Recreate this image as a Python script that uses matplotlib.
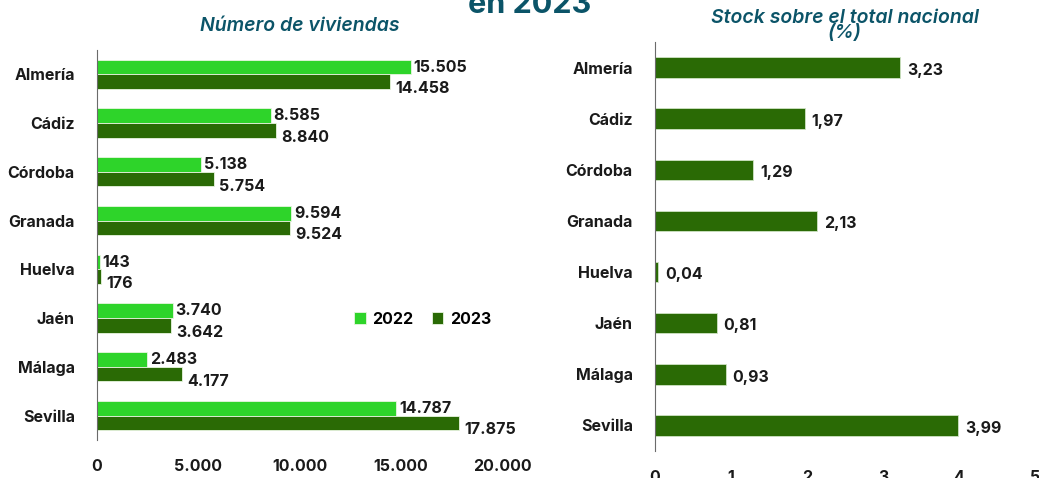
import matplotlib
matplotlib.use("Agg")
import matplotlib.pyplot as plt
import numpy as np

provincias = ["Almería", "Cádiz", "Córdoba", "Granada", "Huelva", "Jaén", "Málaga", "Sevilla"]
viv_2022 = [15505, 8585, 5138, 9594, 143, 3740, 2483, 14787]
viv_2023 = [14458, 8840, 5754, 9524, 176, 3642, 4177, 17875]
stock_pct = [3.23, 1.97, 1.29, 2.13, 0.04, 0.81, 0.93, 3.99]

C_LIGHT = "#2ed42a"
C_DARK = "#2a6a05"
C_TITLE = "#0b5468"
C_TEXT = "#1a1a1a"

plt.rcParams["font.family"] = ["Inter", "DejaVu Sans"]


def miles(v):
    return f"{v:,.0f}".replace(",", ".")


fig = plt.figure(figsize=(10.39, 4.78), dpi=100)

# left panel: number of dwellings
ax1 = fig.add_axes([0.0934, 0.0795, 0.3898, 0.816])
y = np.arange(len(provincias))
h = 0.3
ax1.barh(y - h / 2, viv_2022, height=h, color=C_LIGHT, edgecolor="#e8f5e0",
         linewidth=0.6, label="2022")
ax1.barh(y + h / 2, viv_2023, height=h, color=C_DARK, edgecolor="#e8f5e0",
         linewidth=0.6, label="2023")
for i in range(len(provincias)):
    ax1.annotate(miles(viv_2022[i]), (viv_2022[i], y[i] - h / 2), xytext=(2, 0),
                 textcoords="offset points", ha="left", va="center",
                 fontsize=11.5, fontweight="bold", color=C_TEXT)
    ax1.annotate(miles(viv_2023[i]), (viv_2023[i], y[i] + h / 2), xytext=(4, -5),
                 textcoords="offset points", ha="left", va="center",
                 fontsize=11.5, fontweight="bold", color=C_TEXT)
ax1.set_xlim(0, 20000)
ax1.set_ylim(len(provincias) - 0.5, -0.5)
ax1.set_yticks(y)
ax1.set_yticklabels(provincias)
ax1.set_xticks([0, 5000, 10000, 15000, 20000])
ax1.set_xticklabels([miles(v) for v in [0, 5000, 10000, 15000, 20000]])
ax1.legend(loc="center left", bbox_to_anchor=(0.6, 0.31), ncol=2, frameon=False,
           handlelength=0.7, handleheight=0.7, handletextpad=0.4, columnspacing=1.2,
           prop={"size": 11.5, "weight": "bold"})
ax1.set_title("Número de viviendas", fontsize=14, style="italic", color=C_TITLE,
              fontweight="semibold", pad=14)

# right panel: share of national stock
ax2 = fig.add_axes([0.6304, 0.0565, 0.3657, 0.8556])
ax2.barh(y, stock_pct, height=0.4, color=C_DARK, edgecolor="#cfe3c4", linewidth=0.6)
for i in range(len(provincias)):
    ax2.annotate(f"{stock_pct[i]:.2f}".replace(".", ","), (stock_pct[i], y[i]),
                 xytext=(5, -2), textcoords="offset points", ha="left", va="center",
                 fontsize=11.5, fontweight="bold", color=C_TEXT)
ax2.set_xlim(0, 5)
ax2.set_ylim(len(provincias) - 0.5, -0.5)
ax2.set_yticks(y)
ax2.set_yticklabels(provincias)
ax2.set_xticks(range(6))
ax2.set_title("Stock sobre el total nacional\n(%)", fontsize=14, style="italic",
              color=C_TITLE, fontweight="semibold", pad=2, linespacing=0.8)

for ax in (ax1, ax2):
    for s in ("top", "right", "bottom"):
        ax.spines[s].set_visible(False)
    ax.spines["left"].set_color("#6b6b6b")
    ax.tick_params(length=0, labelsize=11.5, colors=C_TEXT)
    ax.tick_params(axis="y", pad=16)
    ax.tick_params(axis="x", pad=14)
    for lab in ax.get_xticklabels() + ax.get_yticklabels():
        lab.set_fontweight("bold")

fig.text(0.51, 1.018, "en 2023", ha="center", va="top", fontsize=22,
         fontweight="bold", color=C_TITLE)

fig.savefig("out.png", dpi=100)
